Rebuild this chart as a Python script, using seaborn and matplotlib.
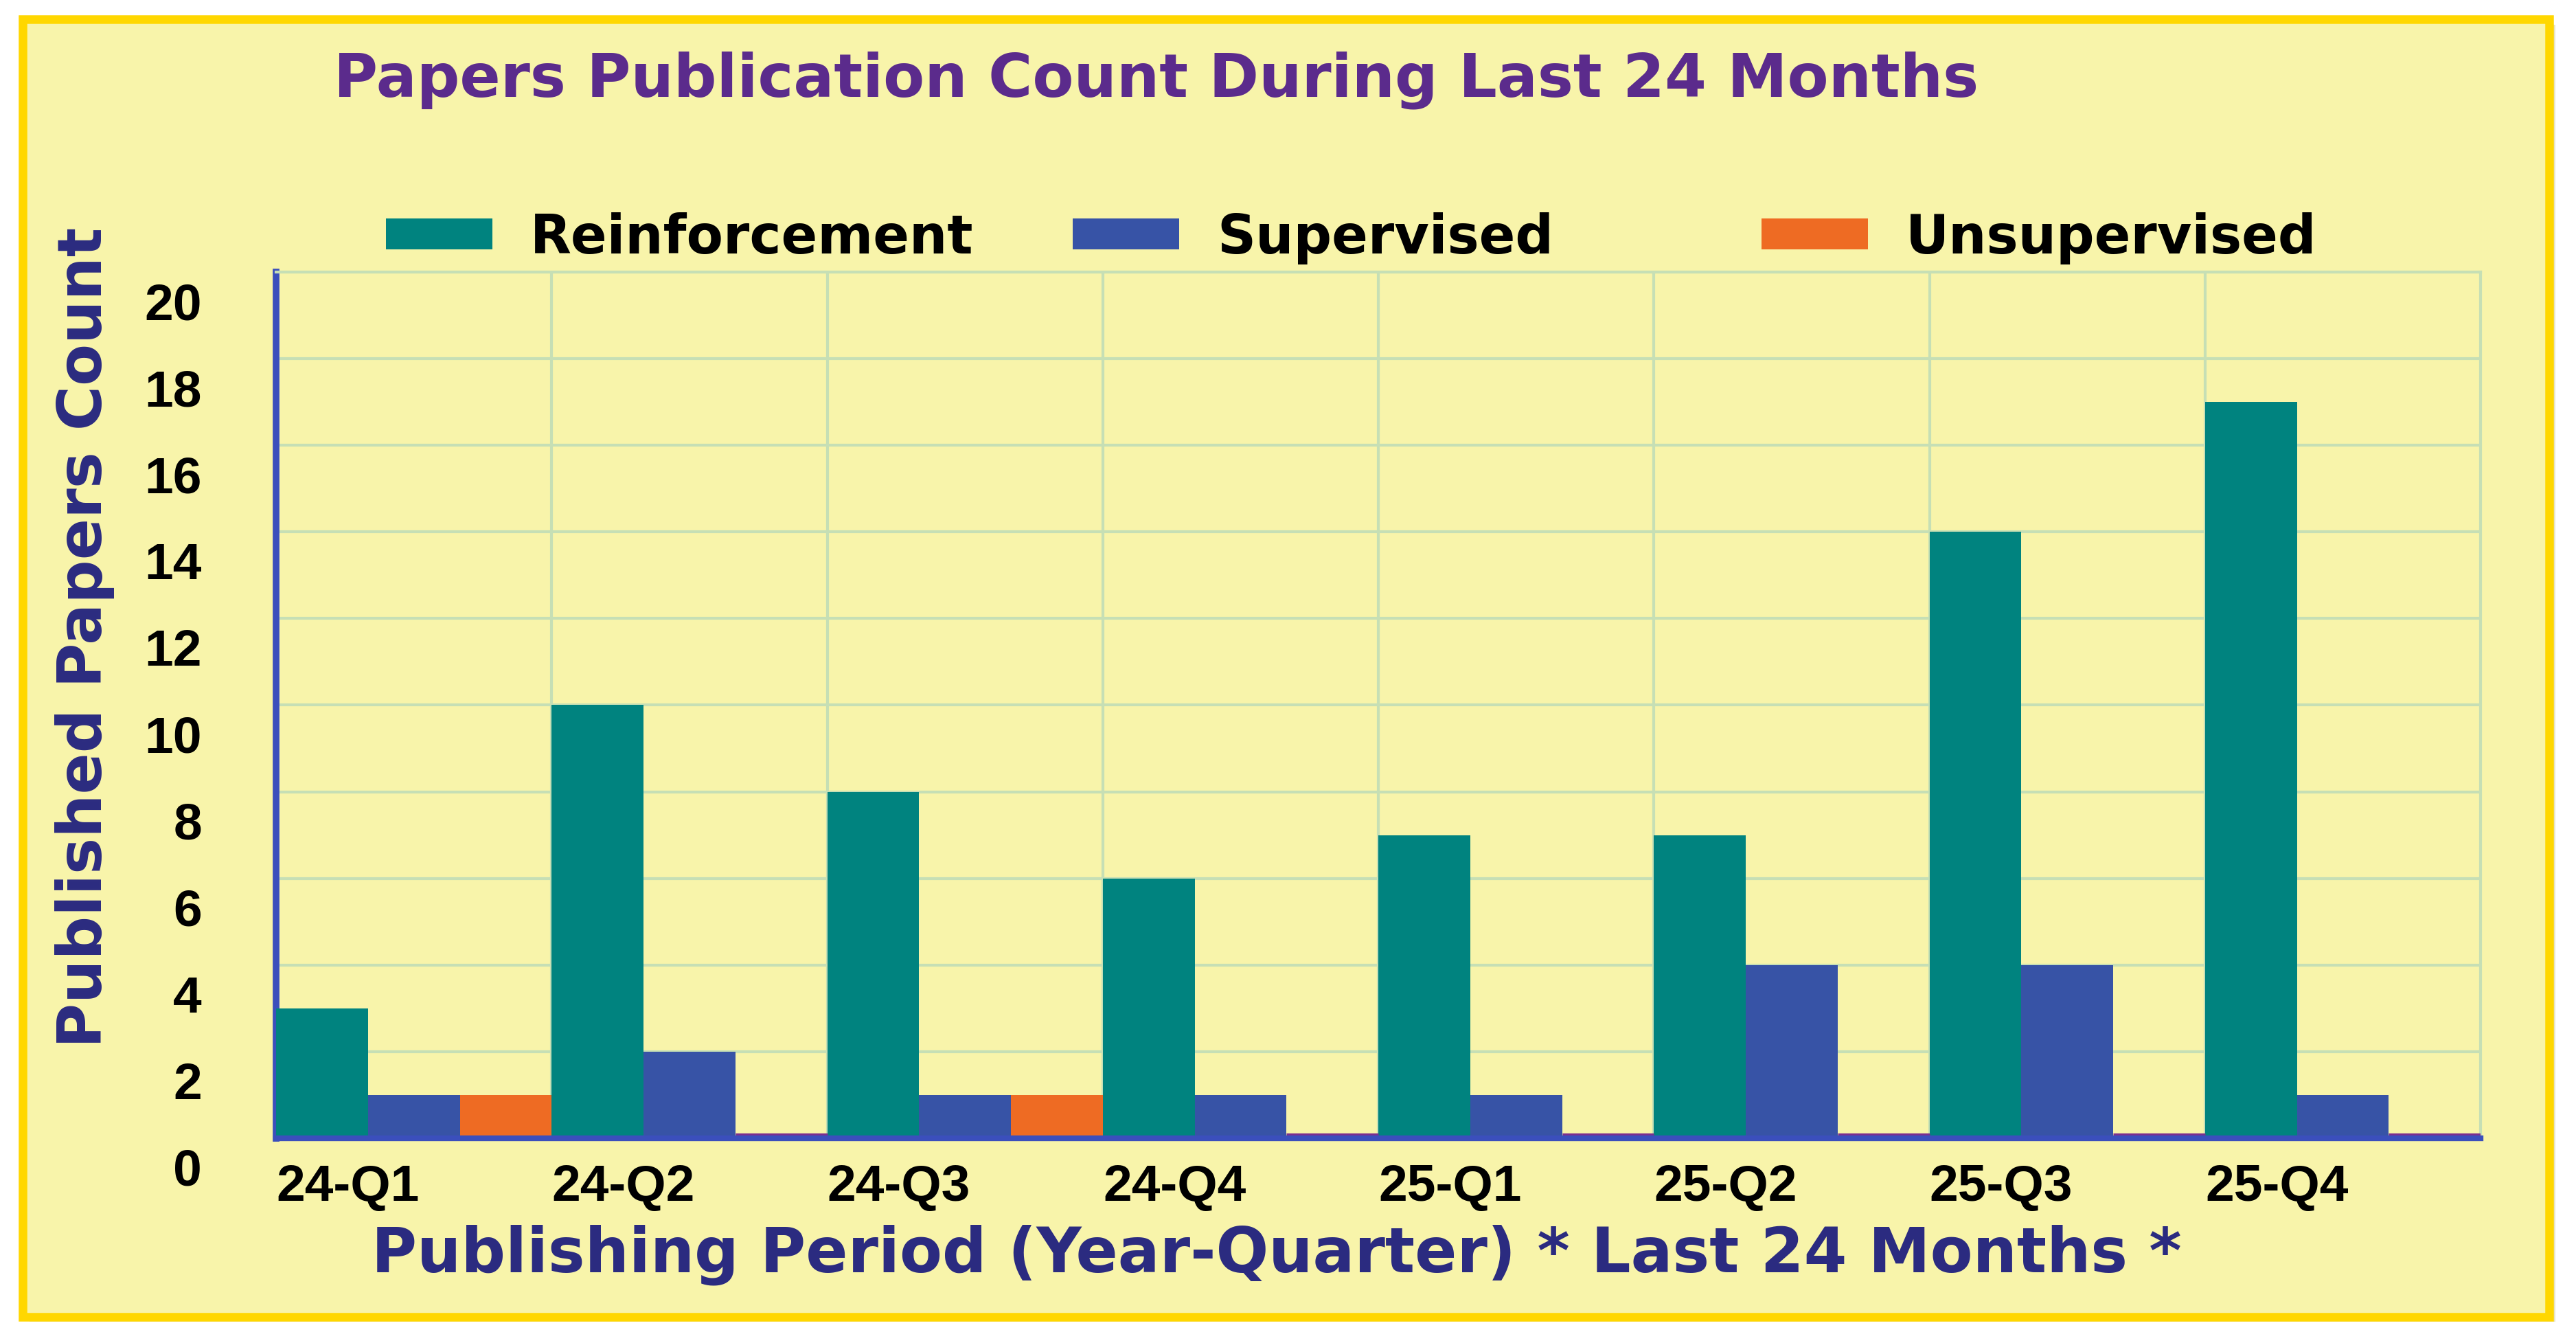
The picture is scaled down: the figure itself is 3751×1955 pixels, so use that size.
import numpy as np
import pandas as pd
import seaborn as sns
import matplotlib
matplotlib.use('Agg')
import matplotlib.pyplot as plt
import matplotlib.patches as mpatches
import matplotlib.transforms as mtransforms

# Données
periodes = ["24-Q1", "24-Q2", "24-Q3", "24-Q4", "25-Q1", "25-Q2", "25-Q3", "25-Q4"]
reinforcement = [3, 10, 8, 6, 7, 7, 14, 17]
supervised = [1, 2, 1, 1, 1, 4, 4, 1]
unsupervised = [1, 0, 1, 0, 0, 0, 0, 0]
categories = ["Reinforcement", "Supervised", "Unsupervised"]
yticks = list(range(0, 21, 2))

# Couleurs
fond = "#f8f4aa"
bordure = "#ffd700"
c_teal = "#00837f"
c_blue = "#3753a6"
c_orange = "#ee6b23"
c_zero = "#7b2f8f"
c_axe = "#3b4fbc"
c_grille = "#c6dfb5"
c_titre = "#5b2b8c"
c_label = "#2b2b80"

data = pd.DataFrame({
    "Periode": periodes * 3,
    "Categorie": np.repeat(categories, len(periodes)),
    "Count": reinforcement + supervised + unsupervised,
})

sns.set_style("white")
plt.rcParams['font.family'] = ['DejaVu Sans']

fig = plt.figure(figsize=(37.51, 19.56), dpi=100, facecolor="white")

# Cadre jaune avec bordure dorée
ombre = mpatches.Rectangle((0.0115, 0.0160), 0.9805, 0.965, transform=fig.transFigure,
                           facecolor="#e8e4c8", edgecolor="none", zorder=0)
cadre = mpatches.Rectangle((0.0089, 0.0194), 0.9807, 0.9656, transform=fig.transFigure,
                           facecolor=fond, edgecolor=bordure, linewidth=9, zorder=1)
fig.patches.extend([ombre, cadre])

ax = fig.add_axes([0.1072, 0.1524, 0.8558, 0.6446])
ax.set_facecolor(fond)
ax.set_zorder(2)

sns.barplot(data=data, x="Periode", y="Count", hue="Categorie", order=periodes,
            hue_order=categories, palette=[c_teal, c_blue, c_orange],
            width=1.0, gap=0, saturation=1, legend=False, ax=ax, zorder=3)

# Barres nulles : trait violet sur la ligne de base
for p in ax.patches:
    if p.get_height() == 0:
        p.set_edgecolor(c_zero)
        p.set_linewidth(11)
    else:
        p.set_edgecolor("none")

ax.set_xlim(-0.5, len(periodes) - 0.5)
ax.set_ylim(0, 20)
ax.set_yticks(yticks)
ax.set_xticks(np.arange(len(periodes)) - 0.5)
ax.set_xticklabels(periodes, ha="left")
ax.set_xlabel("")
ax.set_ylabel("")

ax.grid(True, color=c_grille, linewidth=3, zorder=0)
ax.set_axisbelow(True)
for s in ["top", "right"]:
    ax.spines[s].set_color(c_grille)
    ax.spines[s].set_linewidth(3)
ax.spines["left"].set_color(c_axe)
ax.spines["left"].set_linewidth(7)
ax.spines["bottom"].set_color(c_axe)
ax.spines["bottom"].set_linewidth(6)
ax.spines["bottom"].set_zorder(5)

police_ticks = ['Liberation Sans', 'DejaVu Sans']
ax.tick_params(axis="x", length=0, pad=26)
ax.tick_params(axis="y", length=0, pad=78)
for lab in ax.get_xticklabels() + ax.get_yticklabels():
    lab.set_fontfamily(police_ticks)
    lab.set_fontweight("bold")
    lab.set_fontsize(54)
    lab.set_color("black")
decalage = mtransforms.ScaledTranslation(0, -29.5 / 72, fig.dpi_scale_trans)
for lab in ax.get_yticklabels():
    lab.set_transform(lab.get_transform() + decalage)

# Titre et libellés des axes
fig.text(0.1295, 0.9405, "Papers Publication Count During Last 24 Months",
         fontsize=63, fontweight="bold", color=c_titre, ha="left", va="center")
fig.text(0.4956, 0.066, "Publishing Period (Year-Quarter) * Last 24 Months *",
         fontsize=65, fontweight="bold", color=c_label, ha="center", va="center")
fig.text(0.033, 0.5256, "Published Papers Count", rotation=90,
         fontsize=64, fontweight="bold", color=c_label, ha="center", va="center")

# Légende : trois entrées à emplacements fixes
positions_legende = [0.1499, 0.4165, 0.6837]
taille_leg = 56
em = taille_leg * 100 / 72
for nom, couleur, xpos in zip(categories, [c_teal, c_blue, c_orange], positions_legende):
    poignee = mpatches.Patch(facecolor=couleur, edgecolor="none", label=nom)
    fig.legend(handles=[poignee], loc="center left", bbox_to_anchor=(xpos, 0.8225),
               frameon=False, borderpad=0, borderaxespad=0, handlelength=155 / em,
               handleheight=41 / em, handletextpad=55 / em, labelcolor="black",
               prop={"weight": "bold", "size": taille_leg})

fig.savefig("out.png", dpi=100, facecolor="white")
